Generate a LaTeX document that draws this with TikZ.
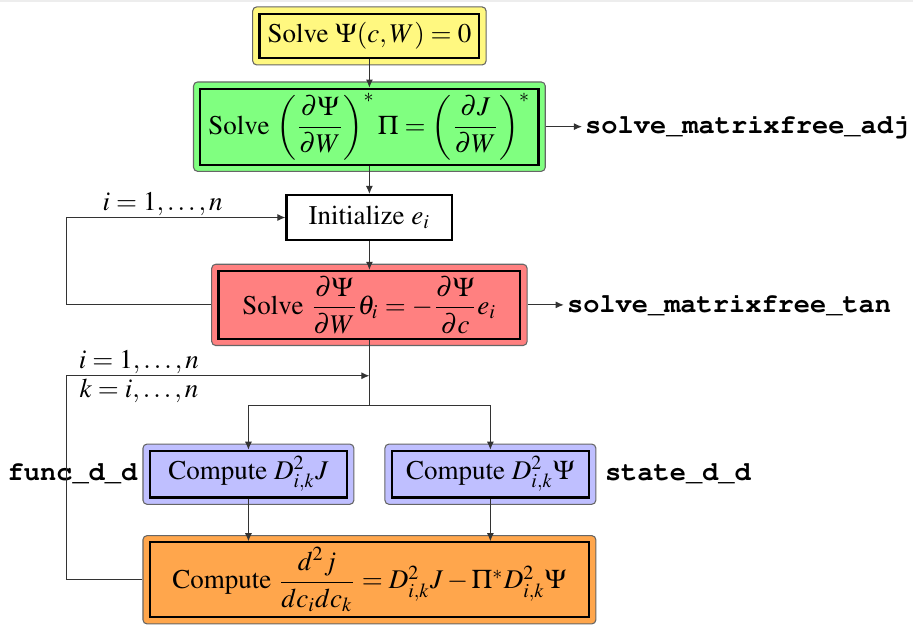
\documentclass[tikz,border=0pt]{standalone}
\usepackage[T1]{fontenc}
\usepackage{mathptmx}
\usepackage{courier}
\usepackage{amsmath}
\usetikzlibrary{arrows.meta, positioning, fit, backgrounds}

\tikzset{
  stepbox/.style={draw, thick, fill=#1, inner xsep=3pt, inner ysep=1pt},
  rim/.style={draw=black!60, thin, fill=#1, rounded corners=1.5pt, inner sep=2.1pt},
  arr/.style={-{Latex[length=3pt,width=2.6pt]}, black!80},
  fname/.style={inner sep=1pt, font=\ttfamily\bfseries},
  lbl/.style={inner sep=0.5pt, text=black},
}

\begin{document}
\begin{tikzpicture}[node distance=10.5pt]
\useasboundingbox (-136.8pt,13.3pt) rectangle (201.3pt,-217.8pt);
\fill[black!7] (-136.8pt,13.3pt) rectangle (201.3pt,12.5pt);

% main column
\node[stepbox=yellow!50, minimum width=78.1pt, minimum height=16.5pt] (psi) {Solve $\Psi(c,W)=0$};
\node[stepbox=green!50, below=of psi, minimum width=123.5pt, minimum height=28.1pt] (adj)
  {Solve $\left(\dfrac{\partial\Psi}{\partial W}\right)^{*}\Pi=\left(\dfrac{\partial J}{\partial W}\right)^{*}$};
\node[stepbox=white, below=of adj, minimum width=61.4pt, minimum height=16.6pt] (ini) {Initialize $e_i$};
\node[stepbox=red!50, below=10.7pt of ini, minimum width=111.8pt, minimum height=25.1pt] (tan)
  {Solve $\dfrac{\partial\Psi}{\partial W}\theta_i=-\dfrac{\partial\Psi}{\partial c}e_i$};

% second derivatives
\node[stepbox=blue!25, below=40.7pt of tan, xshift=-44.8pt, minimum width=73.1pt, minimum height=17.3pt] (fdd) {Compute $D^2_{i,k}J$};
\node[stepbox=blue!25, below=40.7pt of tan, xshift=44.8pt, minimum width=73.1pt, minimum height=17.3pt] (sdd) {Compute $D^2_{i,k}\Psi$};
\path (fdd.south) -- (sdd.south) coordinate[midway] (mid);
\node[stepbox=orange!70, below=15.8pt of mid, minimum width=162.7pt, minimum height=27.7pt] (hes)
  {Compute $\dfrac{d^2j}{dc_idc_k}=D^2_{i,k}J-\Pi^*D^2_{i,k}\Psi$};

% coloured rims
\begin{scope}[on background layer]
\foreach \n/\c in {psi/yellow!50, adj/green!50, tan/red!50, fdd/blue!25, sdd/blue!25, hes/orange!70}
  \node[rim=\c, fit=(\n)] (\n-f) {};
\end{scope}

% routine names
\node[fname, right=13.4pt of adj-f] (adjcall) {solve\_matrixfree\_adj};
\node[fname, right=13.4pt of tan-f] (tancall) {solve\_matrixfree\_tan};
\node[fname, left=0.7pt of fdd-f] (fcall) {func\_d\_d};
\node[fname, right=2pt of sdd-f] (scall) {state\_d\_d};

\draw[arr] (psi) -- (adj);
\draw[arr] (adj) -- (ini);
\draw[arr] (ini) -- (tan);
\draw[arr] (adj-f.east) -- (adjcall.west);
\draw[arr] (tan-f.east) -- (tancall.west);

% loop over i
\coordinate[left=53.7pt of tan-f] (lpa);
\draw[arr] (tan-f.west) -- (lpa) |- node[lbl, above, pos=0.72] {$i=1,\ldots,n$} (ini.west);

% split and loop over i,k
\coordinate[below=24.4pt of tan] (split);
\coordinate[below=13.3pt of tan] (join);
\draw[black!80] (tan) -- (split);
\draw[arr] (split) -| (fdd);
\draw[arr] (split) -| (sdd);
\draw[arr] (fdd) -- (fdd |- hes.north);
\draw[arr] (sdd) -- (sdd |- hes.north);
\coordinate (lpb) at (lpa |- hes-f.west);
\draw[arr] (hes-f.west) -- (lpb) |- node[lbl, above, pos=0.62] {$i=1,\ldots,n$}
  node[lbl, below=0.5pt, pos=0.62] {$k=i,\ldots,n$} (join);
\end{tikzpicture}
\end{document}
